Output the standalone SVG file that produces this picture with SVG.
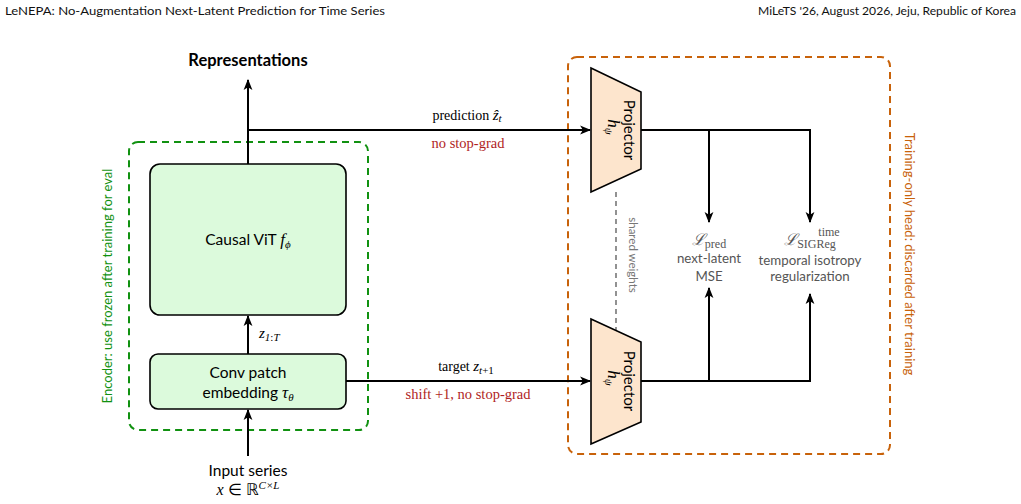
<svg xmlns="http://www.w3.org/2000/svg" width="1021" height="504" viewBox="0 0 1021 504">
<style>
.sans{font-family:Lato,"Open Sans",sans-serif}
.serif{font-family:"Liberation Serif",serif}
.m{font-family:"Liberation Serif",serif;font-style:italic}
.ln{stroke:#000;stroke-width:2;fill:none}
.box{fill:#dcfadc;stroke:#000;stroke-width:1.6}
.proj{fill:#fde5cd;stroke:#000;stroke-width:1.6}
.red{fill:#b01e1e}
.gray{fill:#555}
</style>
<defs>
<marker id="a" viewBox="0 0 10 10" refX="9" refY="5" markerWidth="11" markerHeight="11" orient="auto" markerUnits="userSpaceOnUse">
<path d="M0,1 L10,5 L0,9 L2.5,5 z" fill="#000"/>
</marker>
</defs>
<rect width="1021" height="504" fill="#fff"/>
<text class="sans" x="5" y="15" font-size="11.5" fill="#111" textLength="380" lengthAdjust="spacingAndGlyphs">LeNEPA: No-Augmentation Next-Latent Prediction for Time Series</text>
<text class="sans" x="758" y="15" font-size="11.5" fill="#111" textLength="258" lengthAdjust="spacingAndGlyphs">MiLeTS '26, August 2026, Jeju, Republic of Korea</text>

<g id="encoder-frame">
<rect x="129" y="142" width="239" height="288" rx="9" fill="none" stroke="#119111" stroke-width="2" stroke-dasharray="7,5"/>
<text class="sans" transform="translate(112,286) rotate(-90)" font-size="13" fill="#119111" text-anchor="middle">Encoder: use frozen after training for eval</text>
</g>
<g id="head-frame">
<rect x="568" y="57" width="322" height="397" rx="9" fill="none" stroke="#c8620a" stroke-width="2" stroke-dasharray="7,5"/>
<text class="sans" transform="translate(905,254) rotate(90)" font-size="13" fill="#c8620a" text-anchor="middle">Training-only head: discarded after training</text>
</g>

<g id="connectors">
<line class="ln" x1="248" y1="164" x2="248" y2="80" marker-end="url(#a)"/>
<polyline class="ln" points="248,130 590,130" marker-end="url(#a)"/>
<line class="ln" x1="248" y1="354" x2="248" y2="316" marker-end="url(#a)"/>
<line class="ln" x1="248" y1="456" x2="248" y2="410" marker-end="url(#a)"/>
<line class="ln" x1="346" y1="381" x2="590" y2="381" marker-end="url(#a)"/>
<polyline class="ln" points="641,130 810,130 810,222" marker-end="url(#a)"/>
<line class="ln" x1="709" y1="130" x2="709" y2="222" marker-end="url(#a)"/>
<polyline class="ln" points="641,381 810,381 810,294" marker-end="url(#a)"/>
<line class="ln" x1="709" y1="381" x2="709" y2="288" marker-end="url(#a)"/>
<line x1="616" y1="192" x2="616" y2="330" stroke="#777" stroke-width="1.6" stroke-dasharray="5,4"/>
<text class="sans" transform="translate(629,255) rotate(90)" font-size="11.5" fill="#777" text-anchor="middle">shared weights</text>
<text class="serif" x="467" y="120" font-size="14" text-anchor="middle">prediction <tspan class="m" font-size="15">ẑ</tspan><tspan class="m" font-size="11" dy="2">t</tspan></text>
<text class="serif red" x="468" y="148" font-size="14.5" text-anchor="middle">no stop-grad</text>
<text class="serif" x="466" y="371" font-size="14" text-anchor="middle">target <tspan class="m" font-size="15">z</tspan><tspan class="m" font-size="11" dy="3">t</tspan><tspan font-size="11">+1</tspan></text>
<text class="serif red" x="468" y="399" font-size="14.5" text-anchor="middle">shift +1, no stop-grad</text>
<text class="m" x="259" y="338" font-size="15">z<tspan font-size="11" dy="3">1</tspan><tspan font-size="11" font-style="normal">:</tspan><tspan font-size="11">T</tspan></text>
</g>

<g id="representations">
<text class="sans" x="248" y="66" font-size="16.5" font-weight="bold" text-anchor="middle">Representations</text>
</g>
<g id="causal-vit">
<rect class="box" x="150" y="164" width="196" height="151" rx="10"/>
<text class="sans" x="248" y="245" font-size="15.5" text-anchor="middle">Causal ViT <tspan class="m" font-size="17">f</tspan><tspan class="m" font-size="11" dy="3">ϕ</tspan></text>
</g>
<g id="conv-patch">
<rect class="box" x="150" y="354" width="196" height="55" rx="8"/>
<text class="sans" x="248" y="378" font-size="15.5" text-anchor="middle">Conv patch</text>
<text class="sans" x="248" y="398" font-size="15.5" text-anchor="middle">embedding <tspan class="m" font-size="17">τ</tspan><tspan class="m" font-size="11" dy="3">θ</tspan></text>
</g>
<g id="input">
<text class="sans" x="248" y="476" font-size="15.5" text-anchor="middle">Input series</text>
<text class="m" x="248" y="495" font-size="16" text-anchor="middle">x <tspan font-style="normal">∈ ℝ</tspan><tspan font-size="11" dy="-6">C×L</tspan></text>
</g>
<g id="projector-top">
<polygon class="proj" points="591,68 641,92 641,169 591,192"/>
<text class="sans" transform="translate(624,130) rotate(90)" font-size="15" text-anchor="middle">Projector</text>
<text class="m" transform="translate(608,127) rotate(90)" font-size="17" text-anchor="middle">h<tspan font-size="11" dy="3">ψ</tspan></text>
</g>
<g id="projector-bottom">
<polygon class="proj" points="591,319 641,342 641,422 591,444"/>
<text class="sans" transform="translate(624,381) rotate(90)" font-size="15" text-anchor="middle">Projector</text>
<text class="m" transform="translate(608,378) rotate(90)" font-size="17" text-anchor="middle">h<tspan font-size="11" dy="3">ψ</tspan></text>
</g>
<g id="loss-pred">
<text class="gray" x="709" y="245" font-size="16" text-anchor="middle"><tspan class="m">ℒ</tspan><tspan class="serif" font-size="12" dy="3">pred</tspan></text>
<text class="sans gray" x="709" y="263" font-size="13.3" text-anchor="middle">next-latent</text>
<text class="sans gray" x="709" y="281" font-size="13.3" text-anchor="middle">MSE</text>
</g>
<g id="loss-sigreg">
<text class="gray" x="810" y="245" font-size="16" text-anchor="middle"><tspan class="m">ℒ</tspan><tspan class="serif" font-size="12" dy="3">SIGReg</tspan></text>
<text class="serif gray" x="829" y="236" font-size="12" text-anchor="middle">time</text>
<text class="sans gray" x="810" y="265" font-size="13.3" text-anchor="middle">temporal isotropy</text>
<text class="sans gray" x="810" y="281" font-size="13.3" text-anchor="middle">regularization</text>
</g>
</svg>
